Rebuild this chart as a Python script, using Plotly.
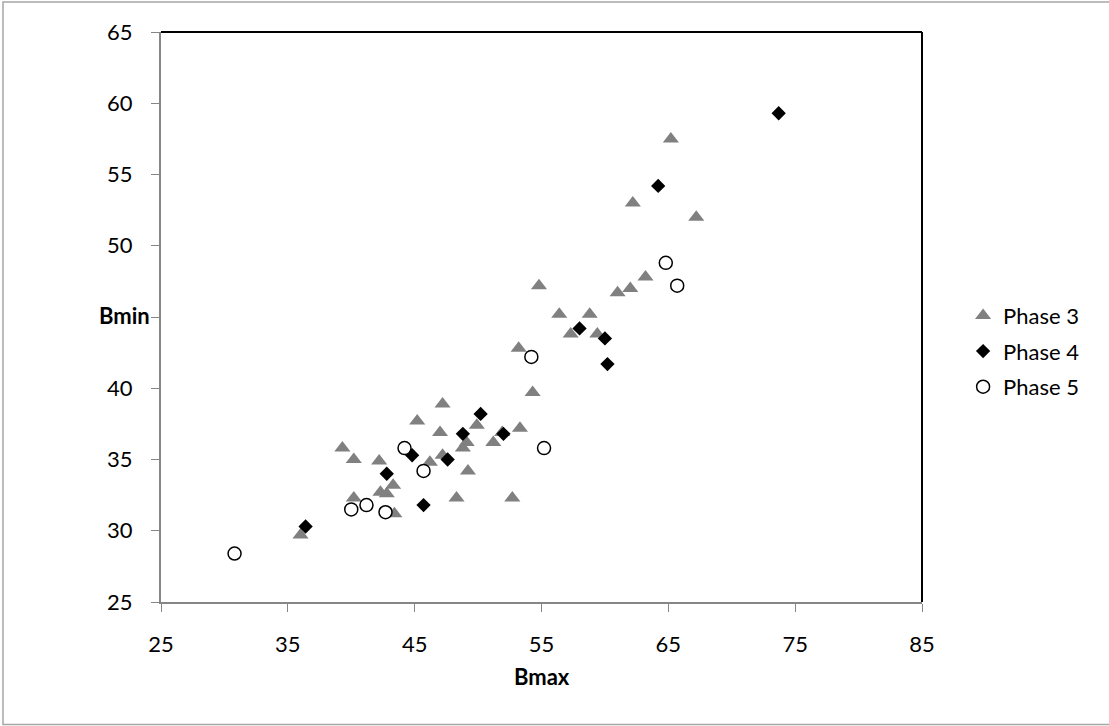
import plotly.graph_objects as go

# Bmax / Bmin measurements per phase
phase3_bmax = [36.0, 39.3, 40.2, 40.2, 42.2, 42.3, 42.8, 43.3, 43.4, 45.2, 47.2, 47.0,
               47.2, 46.2, 49.1, 48.8, 49.9, 49.2, 48.3, 51.2, 51.9, 53.3, 52.7, 54.3,
               53.2, 54.8, 56.4, 58.8, 57.3, 59.4, 61.0, 62.0, 63.2, 62.2, 65.2, 67.2]
phase3_bmin = [29.7, 35.8, 35.0, 32.3, 34.9, 32.7, 32.6, 33.2, 31.2, 37.7, 38.9, 36.9,
               35.3, 34.8, 36.2, 35.8, 37.4, 34.2, 32.3, 36.2, 36.9, 37.2, 32.3, 39.7,
               42.8, 47.2, 45.2, 45.2, 43.8, 43.8, 46.7, 47.0, 47.8, 53.0, 57.5, 52.0]

phase4_bmax = [36.4, 42.8, 44.8, 47.6, 48.8, 50.2, 52.0, 45.7, 58.0, 60.0, 60.2, 64.2, 73.7]
phase4_bmin = [30.3, 34.0, 35.3, 35.0, 36.8, 38.2, 36.8, 31.8, 44.2, 43.5, 41.7, 54.2, 59.3]

phase5_bmax = [30.8, 40.0, 41.2, 42.7, 44.2, 45.7, 55.2, 54.2, 64.8, 65.7]
phase5_bmin = [28.4, 31.5, 31.8, 31.3, 35.8, 34.2, 35.8, 42.2, 48.8, 47.2]

x_ticks = [25, 35, 45, 55, 65, 75, 85]
y_ticks = [25, 30, 35, 40, 45, 50, 55, 60, 65]
# the 45 label sits under the "Bmin" title, so it is left blank
y_tick_labels = ["25", "30", "35", "40", "", "50", "55", "60", "65"]

FONT = "Lato, 'Liberation Sans', sans-serif"
AXIS_GRAY = "#868686"
FS = 22

fig = go.Figure()
fig.add_trace(go.Scatter(
    x=phase3_bmax, y=phase3_bmin, mode="markers", name="Phase 3", legendgroup="p3",
    marker=dict(symbol="triangle-up", size=14, color="#808080", line=dict(width=0)),
))
fig.add_trace(go.Scatter(
    x=phase4_bmax, y=phase4_bmin, mode="markers", name="Phase 4", legendgroup="p4",
    marker=dict(symbol="diamond", size=11, color="black", line=dict(width=0)),
))
fig.add_trace(go.Scatter(
    x=phase5_bmax, y=phase5_bmin, mode="markers", name="Phase 5", legendgroup="p5",
    marker=dict(symbol="circle", size=13, color="white", line=dict(width=1.5, color="black")),
))

axis_common = dict(
    showgrid=False, zeroline=False, showline=True, linecolor=AXIS_GRAY, linewidth=2,
    ticks="outside", ticklen=8, tickcolor=AXIS_GRAY, tickwidth=1,
    ticklabelstandoff=14,
    tickfont=dict(family=FONT, size=FS, color="black"),
)

fig.update_layout(
    width=1109, height=726,
    margin=dict(l=161, r=187, t=32, b=124),
    paper_bgcolor="white", plot_bgcolor="white",
    font=dict(family=FONT, color="black"),
    xaxis=dict(range=[25, 85], tickvals=x_ticks, **axis_common),
    yaxis=dict(range=[25, 65], tickvals=y_ticks, ticktext=y_tick_labels, **axis_common),
    showlegend=True,
    legend=dict(
        x=1.054, y=0.44, xanchor="left", yanchor="middle",
        font=dict(family=FONT, size=FS, color="black"),
        traceorder="grouped", tracegroupgap=4,
        itemsizing="trace", bgcolor="rgba(0,0,0,0)",
    ),
)

# axis titles
fig.add_annotation(text="<b>Bmin</b>", xref="paper", yref="paper",
                   x=-0.012, y=0.502, xanchor="right", yanchor="middle",
                   showarrow=False, font=dict(family=FONT, size=FS, color="black"))
fig.add_annotation(text="<b>Bmax</b>", xref="paper", yref="paper",
                   x=0.5, y=-0.131, xanchor="center", yanchor="middle",
                   showarrow=False, font=dict(family=FONT, size=FS, color="black"))

# black top and right frame of the plot area
fig.add_shape(type="line", xref="paper", yref="paper", x0=0, x1=1, y0=1, y1=1,
              line=dict(color="black", width=2))
fig.add_shape(type="line", xref="paper", yref="paper", x0=1, x1=1, y0=0, y1=1,
              line=dict(color="black", width=2))

# outer chart border
fig.add_shape(type="rect", xref="paper", yref="paper",
              x0=(3 - 161) / 761, x1=(1112 - 161) / 761,
              y0=(601.5 - 724) / 569.5, y1=(601.5 - 2) / 569.5,
              line=dict(color="#A6A6A6", width=1.5), layer="below")

fig.write_html("out.html")
